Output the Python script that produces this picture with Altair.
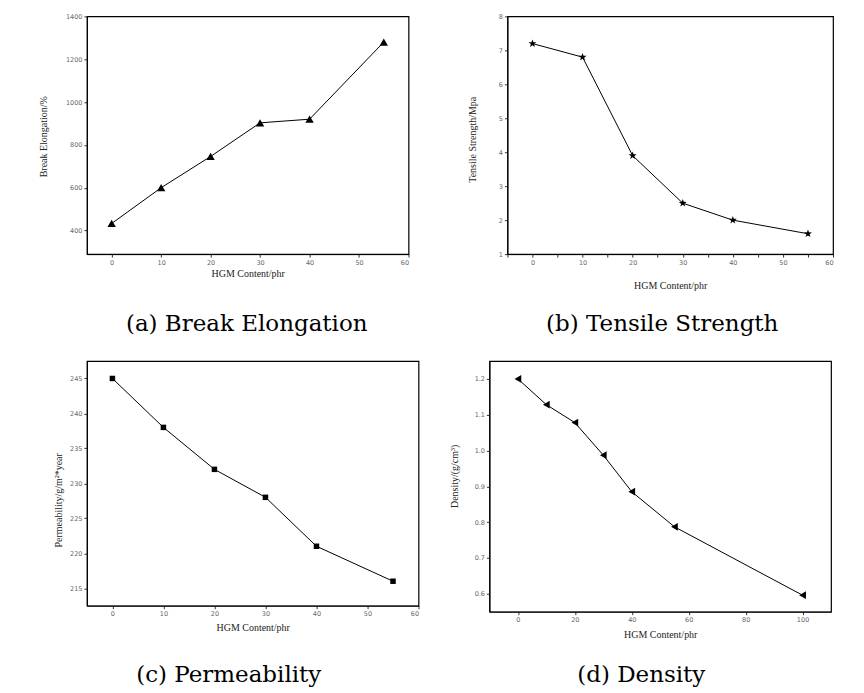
import altair as alt
import pandas as pd

# ---- data ----
hgm_a = [0, 10, 20, 30, 40, 55]
elong = [433, 600, 746, 903, 920, 1280]

hgm_b = [0, 10, 20, 30, 40, 55]
tensile = [7.2, 6.8, 3.9, 2.5, 2.0, 1.6]

hgm_c = [0, 10, 20, 30, 40, 55]
perm = [245, 238, 232, 228, 221, 216]

hgm_d = [0, 10, 20, 30, 40, 55, 100]
density = [1.20, 1.128, 1.078, 0.987, 0.885, 0.787, 0.596]

captions = ["(a)  Break  Elongation", "(b)  Tensile  Strength", "(c)  Permeability", "(d)  Density"]
y_titles = ["Break Elongation/%", "Tensile Strength/Mpa", "Permeability/g/m²*year", "Density/(g/cm³)"]
x_title = "HGM Content/phr"

x_ticks_a = [0, 10, 20, 30, 40, 50, 60]
x_ticks_b = [-5, 0, 5, 10, 15, 20, 25, 30, 35, 40, 45, 50, 55, 60]
x_ticks_d = [0, 20, 40, 60, 80, 100]
y_ticks_a = [400, 600, 800, 1000, 1200, 1400]
y_ticks_b = [1, 2, 3, 4, 5, 6, 7, 8]
y_ticks_c = [215, 220, 225, 230, 235, 240, 245]
y_ticks_d = [0.6, 0.7, 0.8, 0.9, 1.0, 1.1, 1.2]

LABEL = dict(labelFont="DejaVu Sans", labelFontSize=6.5, labelColor="#666666",
             titleFont="Liberation Serif", titleFontSize=10, titleFontWeight="normal",
             titleColor="#222222", domainColor="black", tickColor="#333333",
             tickSize=3, grid=False)

STAR = "M0,-1L0.24,-0.33L0.95,-0.31L0.38,0.12L0.59,0.81L0,0.4L-0.59,0.81L-0.38,0.12L-0.95,-0.31L-0.24,-0.33Z"


def panel(xs, ys, xdom, xvals, xlabel_expr, ydom, yvals, yfmt, w, h, shape, size,
          ytitle, ytx, yty, xty, cap, capx, capy):
    df = pd.DataFrame({"x": xs, "y": ys})
    xenc = alt.X("x:Q", scale=alt.Scale(domain=xdom, nice=False, zero=False),
                 axis=alt.Axis(values=xvals, title=x_title, titleY=xty,
                               titleBaseline="middle", labelExpr=xlabel_expr, **LABEL))
    yenc = alt.Y("y:Q", scale=alt.Scale(domain=ydom, nice=False, zero=False),
                 axis=alt.Axis(values=yvals, format=yfmt, title=ytitle, titleX=ytx,
                               titleY=yty, titleAngle=-90, titleAlign="center",
                               titleBaseline="middle", **LABEL))
    base = alt.Chart(df).encode(x=xenc, y=yenc)
    line = base.mark_line(color="black", strokeWidth=1)
    pts = base.mark_point(shape=shape, size=size, filled=True, color="black", opacity=1)
    txt = alt.Chart(pd.DataFrame({"t": [cap]})).mark_text(
        font="DejaVu Serif", fontSize=23, align="center", baseline="alphabetic",
        color="black").encode(x=alt.value(capx), y=alt.value(capy), text="t:N")
    return alt.layer(line, pts, txt).properties(width=w, height=h)


pa = panel(hgm_a, elong, [-5, 60], x_ticks_a, "datum.label", [290, 1400], y_ticks_a, "d",
           322, 238, "triangle-up", 70, y_titles[0], -43, 120, 19, captions[0], 160, 315)
pb = panel(hgm_b, tensile, [-5, 60], x_ticks_b,
           "datum.value % 10 == 0 ? datum.label : ''", [1, 8], y_ticks_b, "d",
           326, 238, STAR, 70, y_titles[1], -35, 123, 31, captions[1], 155, 315)
pc = panel(hgm_c, perm, [-5, 60], x_ticks_a, "datum.label", [212.5, 247.5], y_ticks_c, "d",
           332, 245, "square", 30, y_titles[2], -28, 139, 22, captions[2], 142, 321)
pd_ = panel(hgm_d, density, [-10, 110], x_ticks_d, "datum.label", [0.55, 1.25], y_ticks_d, ".1f",
            342, 251, "triangle-left", 60, y_titles[3], -35, 115, 23, captions[3], 152, 321)

row1 = alt.hconcat(pa, pb, spacing=99, bounds="flush")
row2 = alt.hconcat(pc, pd_, spacing=71, bounds="flush")

chart = alt.vconcat(row1, row2, spacing=345, bounds="flush").properties(
    autosize=alt.AutoSizeParams(type="none"),
    padding={"left": 79, "top": 8, "right": 770, "bottom": 672},
    background="white",
).configure_view(stroke="black", strokeWidth=1.2)

chart.save("out.html", embed_options={"renderer": "svg", "actions": False})
